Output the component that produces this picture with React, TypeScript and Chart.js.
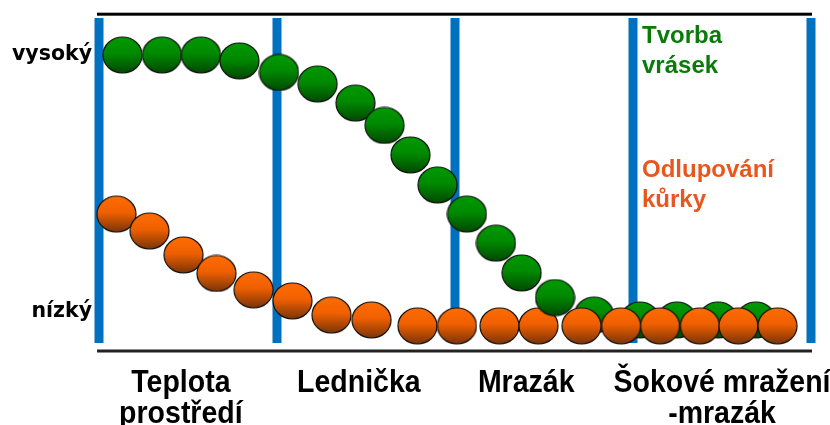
import React, { useEffect, useRef } from "react";
import { Chart, registerables } from "chart.js";

Chart.register(...registerables);

// Stage boundaries (blue dividers) on the x scale
const stageBounds = [0, 1, 2, 3, 4];
// Stage names and where each name sits on the x scale
const stageLabels = [["Teplota", "prostředí"], ["Lednička"], ["Mrazák"], ["Šokové mražení", "-mrazák"]];
const stageLabelPos = [0.46, 1.46, 2.4, 3.5];
// Level axis
const levelTicks = [0, 100];
const levelLabels = ["nízký", "vysoký"];
// Series names
const wrinkleName = ["Tvorba", "vrásek"];
const peelName = ["Odlupování", "kůrky"];

// Tvorba vrásek (green)
const wrinkleX = [0.132, 0.354, 0.573, 0.789, 1.011, 1.228, 1.441, 1.604, 1.75, 1.902, 2.067, 2.23, 2.374, 2.562, 2.781, 3.039, 3.247, 3.478, 3.69];
const wrinkleY = [100, 100, 100, 97.7, 93.2, 88.7, 81.3, 72.6, 61.1, 49.4, 38.1, 26.8, 15.2, 5.6, -1.2, -3.1, -3.1, -3.1, -3.1];
// Odlupování kůrky (orange)
const peelX = [0.098, 0.284, 0.475, 0.66, 0.868, 1.087, 1.306, 1.531, 1.789, 2.011, 2.25, 2.469, 2.711, 2.933, 3.152, 3.376, 3.592, 3.812];
const peelY = [38.1, 31.5, 22.2, 15.0, 8.6, 4.3, -1.2, -3.1, -5.4, -5.4, -5.4, -5.4, -5.4, -5.4, -5.4, -5.4, -5.4, -5.4];

function makeBall(top: string, mid: string, bottom: string): HTMLCanvasElement {
  const c = document.createElement("canvas");
  c.width = 41;
  c.height = 38;
  const g = c.getContext("2d")!;
  const grad = g.createLinearGradient(0, 1, 0, 37);
  grad.addColorStop(0, top);
  grad.addColorStop(0.45, mid);
  grad.addColorStop(1, bottom);
  g.beginPath();
  g.ellipse(20.5, 19, 19.5, 18, 0, 0, Math.PI * 2);
  g.fillStyle = grad;
  g.fill();
  g.lineWidth = 1.2;
  g.strokeStyle = "#111";
  g.stroke();
  return c;
}

export default function App() {
  const ref = useRef<HTMLCanvasElement>(null);
  useEffect(() => {
    if (!ref.current) return;
    const green = makeBall("#009a00", "#008a00", "#004800");
    const orange = makeBall("#ff6c00", "#f06000", "#7a3408");
    const pts = (xs: number[], ys: number[]) => xs.map((x, i) => ({ x, y: ys[i] }));
    const wr = pts(wrinkleX, wrinkleY);
    const pe = pts(peelX, peelY);

    const decor = {
      id: "decor",
      beforeDatasetsDraw(chart: any) {
        const { ctx, chartArea, scales } = chart;
        const { top, bottom } = chartArea;
        const x = scales.x;
        ctx.save();
        ctx.fillStyle = "#0070c0";
        stageBounds.forEach((v) => {
          const px = x.getPixelForValue(v);
          ctx.fillRect(px - 4.5, top, 9, bottom - top);
        });
        const l = x.getPixelForValue(stageBounds[0]) - 2;
        const r = x.getPixelForValue(stageBounds[stageBounds.length - 1]) + 1;
        ctx.fillStyle = "#000";
        ctx.fillRect(l, top - 5.3, r - l, 3);
        ctx.fillStyle = "#222";
        ctx.fillRect(l, bottom + 6.5, r - l, 3);
        ctx.restore();
      },
      afterDraw(chart: any) {
        const { ctx, scales } = chart;
        const x = scales.x;
        const y = scales.y;
        ctx.save();
        // level labels
        ctx.fillStyle = "#000";
        ctx.font = 'bold 20.5px "DejaVu Sans"';
        ctx.textAlign = "right";
        ctx.textBaseline = "middle";
        levelTicks.forEach((v, i) => {
          ctx.fillText(levelLabels[i], 92, y.getPixelForValue(v));
        });
        // stage labels (slightly condensed, tall glyphs)
        ctx.font = 'bold 30px "Liberation Sans"';
        ctx.textAlign = "center";
        ctx.textBaseline = "alphabetic";
        const sx = 0.95;
        const sy = 1.05;
        stageLabels.forEach((lines, i) => {
          const px = x.getPixelForValue(stageLabelPos[i]);
          lines.forEach((t, j) => {
            ctx.save();
            ctx.translate(px, 392 + j * 31);
            ctx.scale(sx, sy);
            ctx.fillText(t, 0, 0);
            ctx.restore();
          });
        });
        // series names
        ctx.font = 'bold 24px "Liberation Sans"';
        ctx.textAlign = "left";
        ctx.fillStyle = "#0a7a0a";
        wrinkleName.forEach((t, j) => ctx.fillText(t, 642, 43 + j * 30));
        ctx.fillStyle = "#e9561e";
        peelName.forEach((t, j) => ctx.fillText(t, 642, 177 + j * 30));
        ctx.restore();
      },
    };

    const chart = new Chart(ref.current, {
      type: "scatter",
      data: {
        datasets: [
          { label: wrinkleName.join(" "), data: wr.slice(0, 14), pointStyle: green as any, clip: false as any },
          { label: peelName.join(" "), data: pe, pointStyle: orange as any, clip: false as any },
          { label: wrinkleName.join(" ") + " 2", data: wr.slice(14), pointStyle: green as any, clip: false as any },
        ],
      },
      options: {
        animation: false,
        responsive: false,
        devicePixelRatio: 1,
        events: [],
        layout: { padding: { left: 99, right: 19, top: 18, bottom: 82 } },
        scales: {
          x: { type: "linear", min: 0, max: 4, display: false },
          y: { type: "linear", min: -12.06, max: 114.4, display: false },
        },
        plugins: { legend: { display: false }, tooltip: { enabled: false } },
      },
      plugins: [decor],
    });
    return () => chart.destroy();
  }, []);
  return (
    <div style={{ position: "fixed", left: 0, top: 0, width: 830, height: 425, background: "#fff" }}>
      <canvas ref={ref} width={830} height={425} />
    </div>
  );
}
